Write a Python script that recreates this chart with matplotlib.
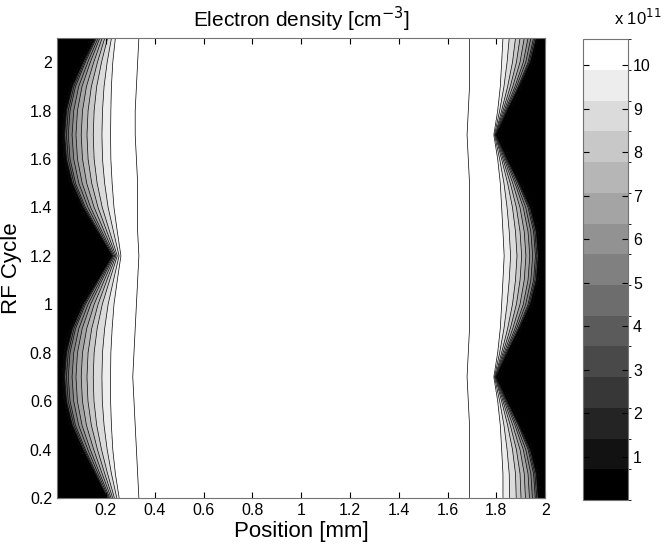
import numpy as np
import matplotlib
matplotlib.use('Agg')
import matplotlib.pyplot as plt
from matplotlib.colors import ListedColormap, BoundaryNorm

plt.rcParams['font.family'] = ['Liberation Sans', 'DejaVu Sans']

# RF cycle rows (y)
cycle = [0.2, 0.3, 0.4, 0.5, 0.6, 0.7, 0.8, 0.9, 1.0, 1.1,
         1.2, 1.3, 1.4, 1.5, 1.6, 1.7, 1.8, 1.9, 2.0, 2.1]

# left sheath: distance from x=0 [mm] where black ends, edge (9.95e11) and bulk (10.6e11)
left_black = [0.20, 0.15, 0.10, 0.055, 0.03, 0.022, 0.03, 0.055, 0.10, 0.16,
              0.22, 0.16, 0.10, 0.055, 0.03, 0.022, 0.03, 0.055, 0.10, 0.15]
left_edge = [0.255, 0.24, 0.23, 0.225, 0.222, 0.222, 0.223, 0.228, 0.235, 0.248,
             0.262, 0.248, 0.235, 0.228, 0.223, 0.222, 0.223, 0.225, 0.23, 0.24]
left_bulk = [0.335, 0.33, 0.325, 0.32, 0.315, 0.31, 0.315, 0.32, 0.325, 0.33,
             0.335, 0.33, 0.33, 0.33, 0.325, 0.32, 0.32, 0.325, 0.33, 0.335]

# right sheath: distance from x=2 [mm]
right_black = [0.022, 0.03, 0.055, 0.10, 0.15, 0.195, 0.15, 0.10, 0.055, 0.03,
               0.022, 0.03, 0.055, 0.10, 0.15, 0.195, 0.15, 0.10, 0.055, 0.03]
right_edge = [0.175, 0.175, 0.18, 0.185, 0.195, 0.21, 0.195, 0.185, 0.18, 0.175,
              0.17, 0.175, 0.18, 0.185, 0.195, 0.21, 0.195, 0.185, 0.18, 0.175]
right_bulk = [0.31, 0.31, 0.31, 0.31, 0.315, 0.32, 0.315, 0.31, 0.31, 0.31,
              0.31, 0.31, 0.31, 0.31, 0.315, 0.32, 0.315, 0.31, 0.31, 0.31]

# density shape inside the sheath (fraction of way black->edge, fraction of 9.95e11)
shape_t = [0.04, 0.12, 0.3, 0.6]
shape_n = [0.35, 0.5, 0.66, 0.84]

n_top = 10.6      # top of colour scale (x 1e11)
n_edge = 9.95
n_plateau = 10.9

x = np.linspace(0, 2, 1001)
y = np.linspace(cycle[0], cycle[-1], 381)


def sheath(d, black, edge, bulk):
    dk = [0, black] + [black + t * (edge - black) for t in shape_t] + [edge, bulk, bulk + 0.05]
    vk = [0, 0.7] + [f * n_edge for f in shape_n] + [n_edge, n_top, n_plateau]
    return np.interp(d, dk, vk)


# finer rows between the read-off cycles so the contours stay smooth
rows = {}
for name, arr in [('lb', left_black), ('le', left_edge), ('lk', left_bulk),
                  ('rb', right_black), ('re', right_edge), ('rk', right_bulk)]:
    rows[name] = np.interp(y, cycle, arr)

Z = []
for i in range(len(y)):
    zl = sheath(x, rows['lb'][i], rows['le'][i], rows['lk'][i])
    zr = sheath(2 - x, rows['rb'][i], rows['re'][i], rows['rk'][i])
    Z.append(np.minimum(zl, zr))
Z = np.array(Z)
X, Y = np.meshgrid(x, y)

levels = np.linspace(0, n_top, 16)
grays = [str(k / 14) for k in range(15)]

fig = plt.figure(figsize=(6.64, 5.52), dpi=100)
ax = fig.add_axes([0.086, 0.098, 0.735, 0.833])
ax.contourf(X, Y, Z, levels=list(levels) + [12], colors=grays + ['1.0'])
ax.contour(X, Y, Z, levels=levels[1:], colors='k', linewidths=0.5)
ax.set_xlim(0, 2)
ax.set_ylim(0.2, 2.1)
ax.set_xticks(np.arange(0.2, 2.01, 0.2))
ax.set_xticklabels(['0.2', '0.4', '0.6', '0.8', '1', '1.2', '1.4', '1.6', '1.8', '2'])
ax.set_yticks(np.arange(0.2, 2.01, 0.2))
ax.set_yticklabels(['0.2', '0.4', '0.6', '0.8', '1', '1.2', '1.4', '1.6', '1.8', '2'])
ax.tick_params(direction='in', top=True, right=True, labelsize=11.5, length=4)
ax.set_xlabel('Position [mm]', fontsize=16, labelpad=2)
ax.set_ylabel('RF Cycle', fontsize=16, labelpad=6)
ax.set_title('Electron density [cm$^{-3}$]', fontsize=15, pad=8)
for s in ax.spines.values():
    s.set_color('0.45')

cax = fig.add_axes([0.878, 0.094, 0.068, 0.835])
cmap = ListedColormap(grays)
norm = BoundaryNorm(levels, cmap.N)
cb = matplotlib.colorbar.ColorbarBase(cax, cmap=cmap, norm=norm, boundaries=levels,
                                      ticks=np.arange(1, 11))
cb.set_ticklabels([str(k) for k in range(1, 11)])
cax.tick_params(direction='in', left=True, right=True, labelsize=11.5, length=4)
cb.outline.set_edgecolor('0.45')
fig.text(0.96, 0.955, 'x 10$^{11}$', fontsize=12, ha='center')

fig.savefig('out.png', dpi=100)
